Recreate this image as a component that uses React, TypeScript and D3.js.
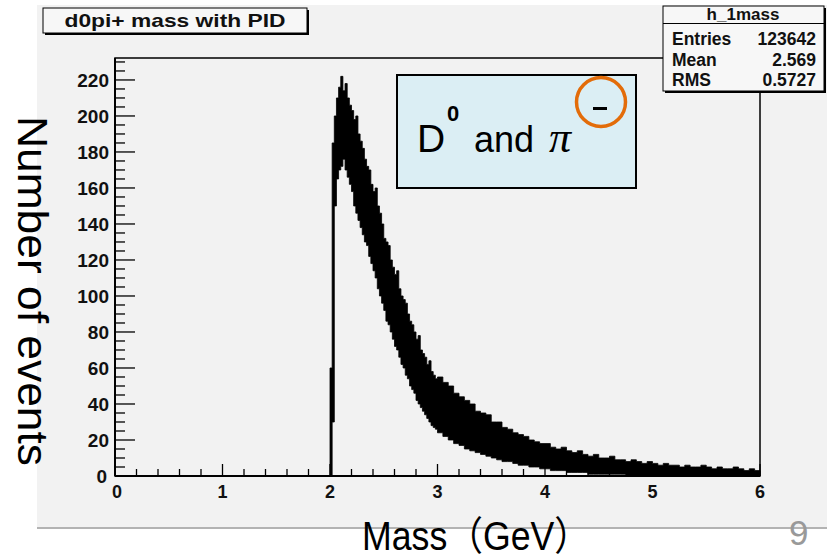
import React from "react";
import * as d3 from "d3";

// axis ticks
const massTicks = [0, 1, 2, 3, 4, 5, 6];
const countTicks = [0, 20, 40, 60, 80, 100, 120, 140, 160, 180, 200, 220];

// histogram band: max / min bin content per slice
// peak region, 0.02 GeV slices from 2.00
const peakStart = 2.0;
const peakStep = 0.02;
const peakHigh = [60, 185, 200, 210, 216, 222, 214, 218, 210, 206, 203, 198, 200, 190, 186, 182, 176, 172, 170, 162,
  158, 160, 150, 146, 140, 132, 130, 128, 120, 116, 112, 114, 104, 100, 98, 96, 90, 86, 84, 80,
  76, 78, 70, 68, 66, 62, 64, 58, 56, 54];
const peakLow = [0, 30, 150, 165, 170, 172, 176, 170, 166, 162, 158, 150, 146, 142, 138, 134, 130, 128, 122, 118,
  114, 110, 104, 100, 96, 92, 86, 84, 80, 76, 72, 70, 66, 62, 60, 56, 54, 50, 48, 46,
  42, 40, 38, 36, 34, 32, 30, 28, 27, 26];
// tail, 0.05 GeV slices from 3.00
const tailStart = 3.0;
const tailStep = 0.05;
const tailHigh = [55, 52, 50, 46, 44, 42, 40, 36, 35, 34, 30, 30, 27, 26, 24, 23, 22, 20, 19, 18,
  18, 16, 15, 16, 14, 13, 14, 12, 11, 12, 10, 10, 11, 9, 9, 8, 9, 8, 7, 8,
  7, 6, 7, 6, 6, 5, 6, 5, 5, 6, 5, 4, 5, 4, 4, 5, 4, 3, 4, 3];
const tailLow = [24, 22, 20, 18, 17, 15, 14, 13, 12, 11, 10, 9, 8, 8, 7, 6, 6, 5, 5, 4,
  4, 3, 3, 3, 2, 2, 2, 2, 1, 1, 1, 1, 1, 1, 1, 0, 0, 0, 0, 0,
  0, 0, 0, 0, 0, 0, 0, 0, 0, 0, 0, 0, 0, 0, 0, 0, 0, 0, 0, 0];

const statsTitle = "h_1mass";
const statsLabels = ["Entries", "Mean", "RMS"];
const statsValues = ["123642", "2.569", "0.5727"];

const W = 827, H = 558;
const frame = { left: 115, right: 760, top: 58, bottom: 476 };

export default function App() {
  const x = d3.scaleLinear().domain([0, 6]).range([frame.left, frame.right]);
  const y = d3.scaleLinear().domain([0, 232.2]).range([frame.bottom, frame.top]);

  const bins = [
    ...peakHigh.map((h, i) => ({ x0: peakStart + i * peakStep, hi: h, lo: peakLow[i] })),
    ...tailHigh.map((h, i) => ({ x0: tailStart + i * tailStep, hi: h, lo: tailLow[i] })),
  ];
  const last = bins[bins.length - 1];
  bins.push({ x0: 6, hi: last.hi, lo: last.lo });

  const band = d3.area<{ x0: number; hi: number; lo: number }>()
    .x(d => x(d.x0))
    .y0(d => y(d.lo))
    .y1(d => y(d.hi))
    .curve(d3.curveStepAfter);

  const xMinor = d3.range(0, 6.001, 0.2);
  const yMinor = d3.range(0, 232, 5);
  const tickFont = "'Liberation Sans', Arial, sans-serif";

  return (
    <svg width={W} height={H} style={{ position: "absolute", left: 0, top: 0, background: "#fff" }}>
      {/* slide panel */}
      <rect x={37} y={5} width={W - 37} height={522} fill="#f2f2f2" />
      <line x1={37} x2={W} y1={528} y2={528} stroke="#b3b3b3" strokeWidth={2} />

      {/* histogram */}
      <path d={band(bins) || ""} fill="#000" stroke="#000" strokeWidth={0.8} />

      {/* frame */}
      <rect x={frame.left} y={frame.top} width={frame.right - frame.left} height={frame.bottom - frame.top}
        fill="none" stroke="#000" strokeWidth={1.5} />

      {/* y axis */}
      <g>
        {yMinor.map(v => (
          <line key={v} x1={frame.left} x2={frame.left + (v % 20 === 0 ? 20 : 10)} y1={y(v)} y2={y(v)} stroke="#000" strokeWidth={1.3} />
        ))}
        {countTicks.map(v => (
          <text key={v} x={v === 0 ? 107 : 109} y={y(v)} dy="0.36em" textAnchor="end" fontFamily={tickFont}
            fontWeight="bold" fontSize={19} fill="#111">{v}</text>
        ))}
        <line x1={frame.left} x2={frame.left} y1={frame.top} y2={frame.bottom} stroke="#000" strokeWidth={2} />
      </g>

      {/* x axis */}
      <g>
        {xMinor.map((v, i) => (
          <line key={i} x1={x(v)} x2={x(v)} y1={frame.bottom} y2={frame.bottom - (i % 5 === 0 ? 12 : 7)} stroke="#000" strokeWidth={1.3} />
        ))}
        {massTicks.map(v => (
          <text key={v} x={x(v) + (v === 0 ? 2 : 0)} y={498} textAnchor="middle" fontFamily={tickFont}
            fontWeight="bold" fontSize={18} fill="#111">{v}</text>
        ))}
        <line x1={frame.left} x2={frame.right} y1={frame.bottom} y2={frame.bottom} stroke="#000" strokeWidth={2} />
      </g>

      {/* title box */}
      <rect x={45} y={10} width={264} height={25} fill="#000" />
      <rect x={43} y={8} width={264} height={25} fill="#f7f7f7" stroke="#000" strokeWidth={1} />
      <text x={175} y={27} textAnchor="middle" fontFamily={tickFont} fontWeight="bold" fontSize={19}
        textLength={221} lengthAdjust="spacingAndGlyphs" fill="#111">d0pi+ mass with PID</text>

      {/* stats box */}
      <rect x={665} y={8} width={161} height={85} fill="#000" />
      <rect x={663} y={6} width={161} height={85} fill="#f7f7f7" stroke="#000" strokeWidth={1} />
      <line x1={663} x2={824} y1={23.5} y2={23.5} stroke="#000" strokeWidth={1} />
      <text x={743} y={19.5} textAnchor="middle" fontFamily={tickFont} fontWeight="bold" fontSize={17}
        fill="#111">{statsTitle}</text>
      {statsLabels.map((s, i) => (
        <g key={s}>
          <text x={672} y={45 + i * 20.5} fontFamily={tickFont} fontWeight="bold" fontSize={17.5} fill="#111">{s}</text>
          <text x={816} y={45 + i * 20.5} textAnchor="end" fontFamily={tickFont} fontWeight="bold" fontSize={17.5} fill="#111">{statsValues[i]}</text>
        </g>
      ))}

      {/* annotation box */}
      <rect x={397} y={75} width={239} height={113} fill="#dbeef4" stroke="#000" strokeWidth={2} />
      <text x={417} y={152} fontFamily="'Liberation Sans', Arial, sans-serif" fontSize={39} fill="#000">D</text>
      <text x={447} y={121} fontFamily="'Liberation Sans', Arial, sans-serif" fontWeight="bold" fontSize={22} fill="#000">0</text>
      <text x={474} y={152} fontFamily="'Liberation Sans', Arial, sans-serif" fontSize={36} fill="#000">and</text>
      <text x={549} y={152} fontFamily="'Liberation Serif', 'Times New Roman', serif" fontStyle="italic" fontSize={44} fill="#000">π</text>
      <rect x={593} y={107} width={14} height={3} fill="#000" />
      <circle cx={601} cy={102} r={24.5} fill="none" stroke="#e36c09" strokeWidth={3.5} />

      {/* axis titles */}
      <text transform="translate(18,116) rotate(90)" fontFamily="'Liberation Sans', Arial, sans-serif" fontSize={42}
        textLength={350} lengthAdjust="spacingAndGlyphs" fill="#000">Number of events</text>
      <text x={362} y={550} fontFamily="'Liberation Sans', 'Noto Sans CJK JP', sans-serif" fontSize={40}
        textLength={228} lengthAdjust="spacingAndGlyphs" fill="#000">Mass（GeV）</text>
      <text x={789} y={545} fontFamily="'Liberation Sans', Arial, sans-serif" fontSize={35} fill="#999">9</text>
    </svg>
  );
}
